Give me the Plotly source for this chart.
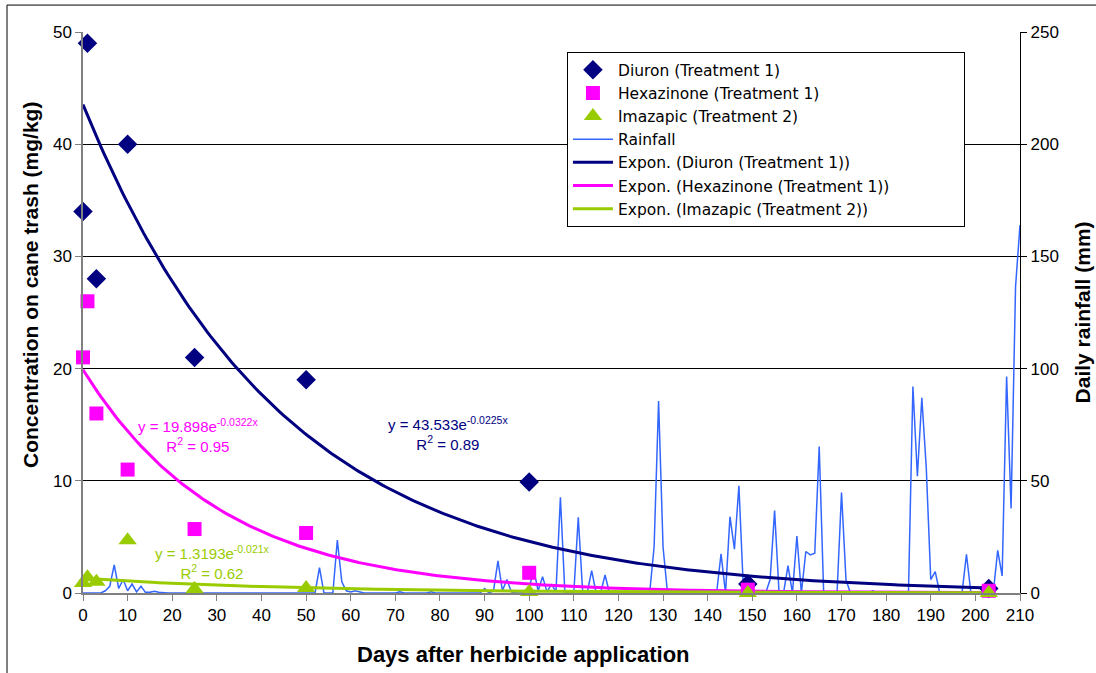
import numpy as np
import plotly.graph_objects as go

# ---------------- data ----------------
sample_days = [0, 1, 3, 10, 25, 50, 100, 149, 203]
diuron = [34, 49, 28, 40, 21, 19, 9.9, 0.8, 0.4]
hexazinone = [21, 26, 16, 11, 5.7, 5.35, 1.8, 0.3, 0.2]
imazapic = [0.9, 1.4, 1.0, 4.7, 0.35, 0.45, 0.1, 0.0, 0.0]

# exponential trendline coefficients (as printed on the chart)
diuron_a, diuron_b = 43.533, -0.0225
hexa_a, hexa_b = 19.898, -0.0322
imaz_a, imaz_b = 1.3193, -0.021

# daily rainfall (mm), days 0..210
rain_mm = [
    0, 0, 0, 0, 0, 1, 3, 12.5, 2, 6,
    1, 4, 0.5, 3, 0.3, 0.3, 0.8, 0.3, 0, 0,
    0, 0, 0, 0, 0, 0, 0, 0, 0, 0,
    0, 0, 0, 0, 0, 0, 0, 0, 0, 0,
    0, 0, 0, 0, 0, 0, 0, 0, 0, 0,
    0, 0, 0, 11.3, 0, 0, 0, 23.6, 5, 1,
    0.5, 1, 0.5, 0, 0, 0, 0, 0, 0, 0,
    0, 0.5, 0, 0, 0, 0, 0, 0, 0.5, 0,
    0, 0, 0, 0, 0, 0, 0, 0, 0, 0,
    2, 0, 1, 14.3, 1, 6, 0.5, 0, 0, 0,
    2, 10.5, 1, 7.3, 0.5, 4, 0.5, 42.6, 0, 0,
    0, 33.7, 0, 0, 10, 0, 0, 8, 0, 0,
    0, 0, 0, 0, 0, 0, 0, 0, 20.6, 85.5,
    20.5, 0, 0, 0, 0, 0, 0, 0, 0, 0,
    0, 0, 0, 17.4, 0, 34, 19.5, 47.8, 2, 1,
    0, 0, 0, 0, 6, 36.7, 0, 0, 12.2, 0,
    25.4, 0, 18.5, 17, 17.7, 65.3, 0, 0, 0, 0,
    44.8, 5.9, 0, 0, 0, 0, 0, 1, 0, 0,
    0, 0, 0, 0, 0, 0, 92, 52, 87, 55.5,
    6, 9.5, 0, 0, 0, 0, 0, 0, 17.2, 0,
    0, 0, 1, 0, 0, 19, 7.6, 96.5, 37.7, 136.5,
    164,
]
rain_days = list(range(len(rain_mm)))

x_ticks = list(range(0, 211, 10))
left_ticks = [0, 10, 20, 30, 40, 50]
right_ticks = [0, 50, 100, 150, 200, 250]

# ---------------- styles ----------------
NAVY = "#000080"
MAGENTA = "#FF00FF"
GREEN = "#99CC00"
RAIN = "#3366FF"
FONT = "Liberation Sans, Arial, sans-serif"
LEG_FONT = "DejaVu Sans, Liberation Sans, sans-serif"
PAD = "\u00a0" * 14  # widens the legend box to the reference width

fig = go.Figure()

# Rainfall on primary axis (drawn underneath), displayed on the right
fig.add_trace(go.Scatter(
    x=rain_days, y=rain_mm, mode="lines", name="Rainfall",
    line=dict(color=RAIN, width=1.5), yaxis="y", legendrank=4))

trend_x = np.linspace(0, 203, 300)
fig.add_trace(go.Scatter(
    x=trend_x, y=diuron_a * np.exp(diuron_b * trend_x), mode="lines",
    name="Expon. (Diuron (Treatment 1))", line=dict(color=NAVY, width=3),
    yaxis="y2", legendrank=5))
fig.add_trace(go.Scatter(
    x=trend_x, y=hexa_a * np.exp(hexa_b * trend_x), mode="lines",
    name="Expon. (Hexazinone (Treatment 1))" + PAD, line=dict(color=MAGENTA, width=3),
    yaxis="y2", legendrank=6))
fig.add_trace(go.Scatter(
    x=trend_x, y=imaz_a * np.exp(imaz_b * trend_x), mode="lines",
    name="Expon. (Imazapic (Treatment 2))", line=dict(color=GREEN, width=3),
    yaxis="y2", legendrank=7))

fig.add_trace(go.Scatter(
    x=sample_days, y=diuron, mode="markers", name="Diuron (Treatment 1)",
    marker=dict(symbol="diamond", color=NAVY, size=15), yaxis="y2",
    legendrank=1, cliponaxis=False))
fig.add_trace(go.Scatter(
    x=sample_days, y=hexazinone, mode="markers", name="Hexazinone (Treatment 1)",
    marker=dict(symbol="square", color=MAGENTA, size=14), yaxis="y2",
    legendrank=2, cliponaxis=False))
fig.add_trace(go.Scatter(
    x=sample_days, y=imazapic, mode="markers", name="Imazapic (Treatment 2)",
    marker=dict(symbol="triangle-up", color=GREEN, size=16), yaxis="y2",
    legendrank=3, cliponaxis=False))

annots = [
    dict(x=25.7, y=14.0, color=MAGENTA,
         text="y = 19.898e<sup>-0.0322x</sup><br>R<sup>2</sup> = 0.95"),
    dict(x=81.7, y=14.26, color=NAVY,
         text="y = 43.533e<sup>-0.0225x</sup><br>R<sup>2</sup> = 0.89"),
    dict(x=29.1, y=2.72, color=GREEN,
         text="y = 1.3193e<sup>-0.021x</sup><br>R<sup>2</sup> = 0.62"),
]
annotations = [
    dict(x=a["x"], y=a["y"], xref="x", yref="y2", text=a["text"], showarrow=False,
         align="center", font=dict(family=FONT, size=15, color=a["color"]))
    for a in annots
]
# axis titles placed where the reference has them
annotations.append(dict(
    x=0.4696, y=-0.1105, xref="paper", yref="paper", showarrow=False,
    text="<b>Days after herbicide application</b>",
    font=dict(family=FONT, size=22, color="black"), xanchor="center", yanchor="middle"))
annotations.append(dict(
    x=-0.0566, y=0.549, xref="paper", yref="paper", showarrow=False, textangle=-90,
    text="<b>Concentration on cane trash (mg/kg)</b>",
    font=dict(family=FONT, size=21, color="black"), xanchor="center", yanchor="middle"))
annotations.append(dict(
    x=1.0672, y=0.5, xref="paper", yref="paper", showarrow=False, textangle=-90,
    text="<b>Daily rainfall (mm)</b>",
    font=dict(family=FONT, size=21, color="black"), xanchor="center", yanchor="middle"))

fig.update_layout(
    width=1096, height=673,
    margin=dict(l=83, r=76, t=32, b=80),
    paper_bgcolor="white", plot_bgcolor="white",
    font=dict(family=FONT, size=17, color="black"),
    showlegend=True,
    legend=dict(x=0.5165, y=0.964, xanchor="left", yanchor="top",
                bgcolor="white", bordercolor="black", borderwidth=1,
                font=dict(family=LEG_FONT, size=15.5, color="black"),
                tracegroupgap=0, itemwidth=40),
    xaxis=dict(range=[0, 210], tickvals=x_ticks, ticktext=[str(v) for v in x_ticks],
               showgrid=False, zeroline=False, showline=True, linecolor="#808080",
               linewidth=1.5, ticks="outside", ticklen=6, tickcolor="#808080",
               tickfont=dict(size=17)),
    yaxis=dict(range=[0, 250], tickvals=right_ticks, side="right",
               showgrid=True, gridcolor="black", gridwidth=1, zeroline=False,
               showline=True, linecolor="black", linewidth=1.2, ticks="outside",
               ticklen=6, tickcolor="black", tickfont=dict(size=17)),
    yaxis2=dict(range=[0, 50], tickvals=left_ticks, side="left",
                overlaying="y", showgrid=False, zeroline=False, showline=True,
                linecolor="#808080", linewidth=1.5, ticks="outside", ticklen=6,
                tickcolor="#808080", tickfont=dict(size=17)),
    annotations=annotations,
    shapes=[dict(type="rect", xref="paper", yref="paper",
                 x0=-0.0811, x1=1.2, y0=-0.2, y1=1.048,
                 line=dict(color="black", width=1), fillcolor="rgba(0,0,0,0)",
                 layer="below")],
)

fig.write_html("out.html")
